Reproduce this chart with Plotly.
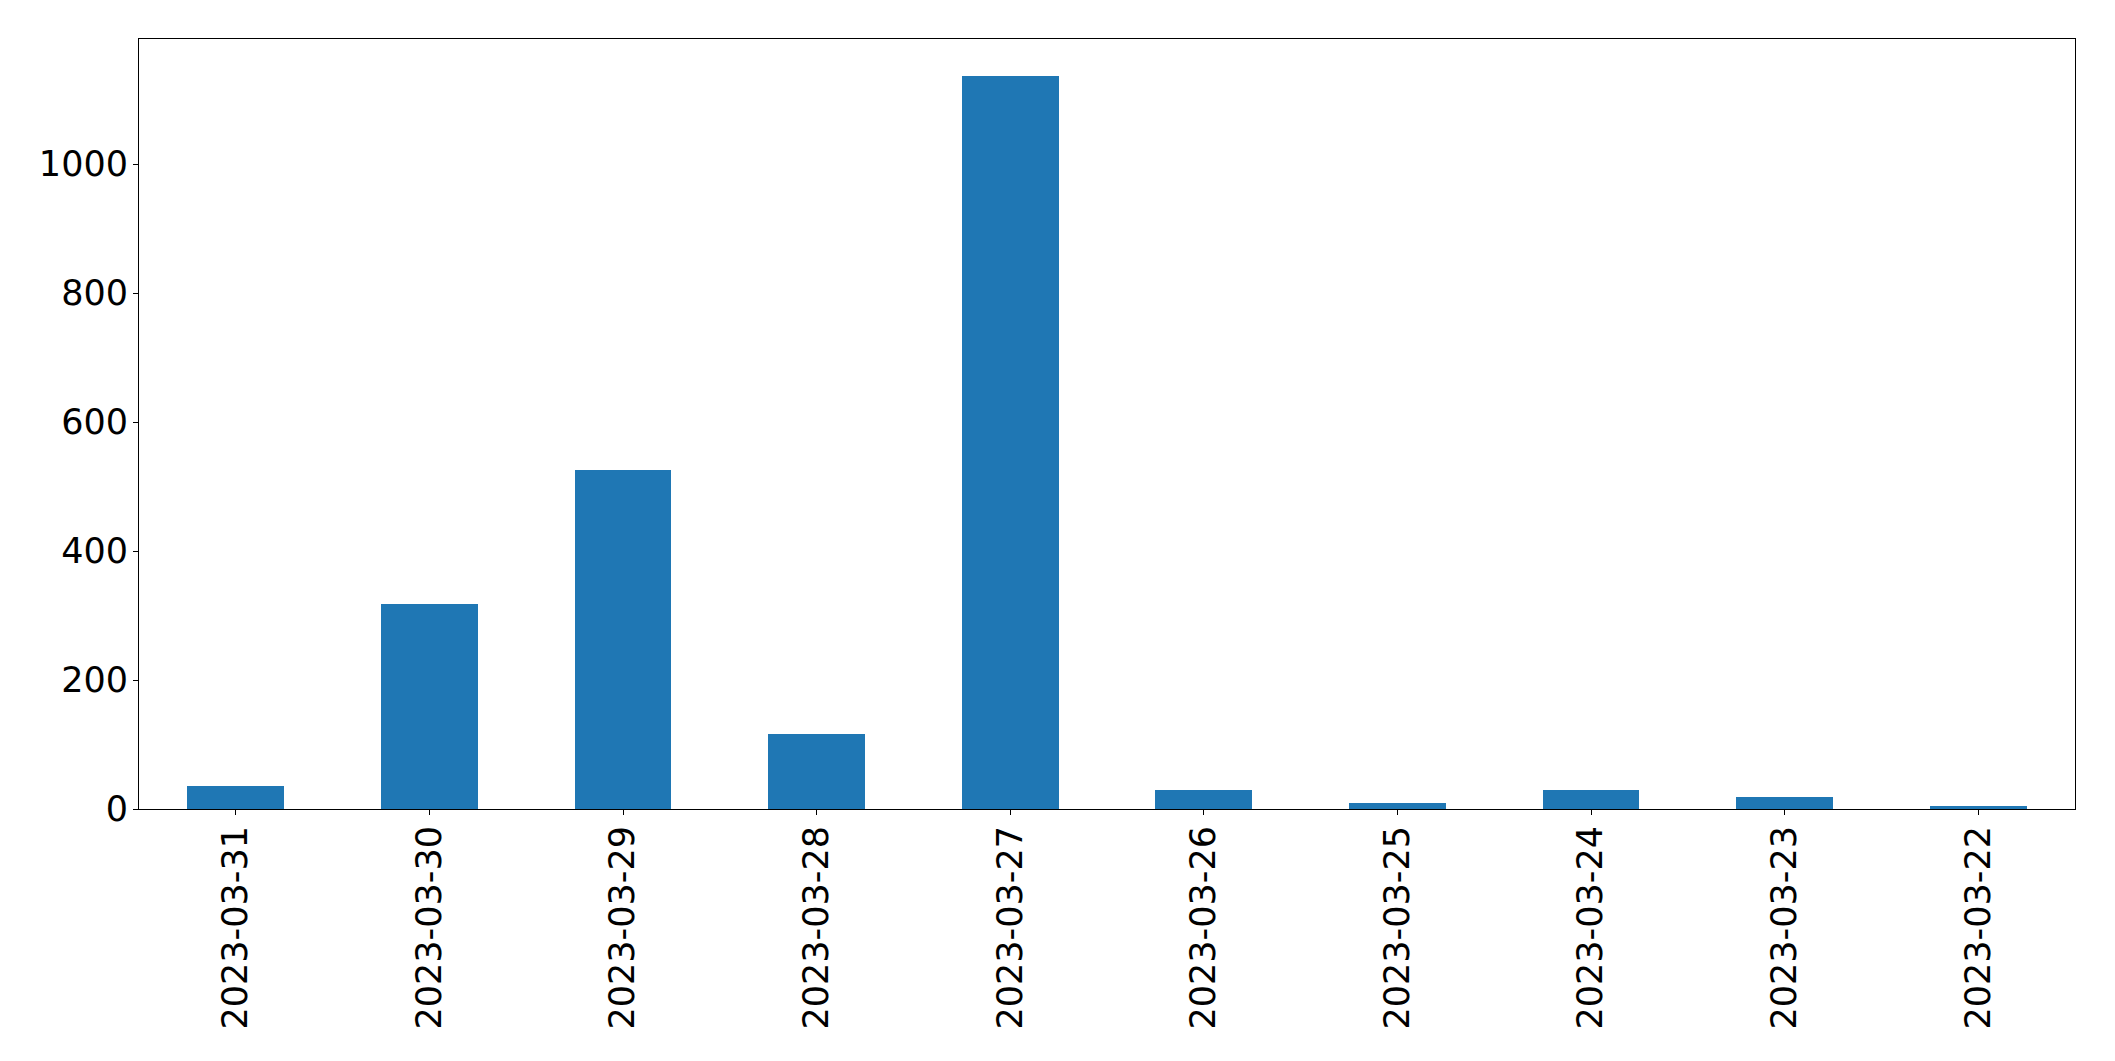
import plotly.graph_objects as go

dates = ["2023-03-31", "2023-03-30", "2023-03-29", "2023-03-28", "2023-03-27",
         "2023-03-26", "2023-03-25", "2023-03-24", "2023-03-23", "2023-03-22"]
counts = [35, 318, 526, 116, 1137, 30, 10, 30, 19, 5]
y_ticks = [0, 200, 400, 600, 800, 1000]

fig = go.Figure(
    go.Bar(
        x=dates,
        y=counts,
        width=0.5,
        marker=dict(color="#1f77b4", line=dict(width=0)),
    )
)

axis_common = dict(
    showline=True,
    linecolor="black",
    linewidth=1.1,
    mirror=True,
    ticks="outside",
    ticklen=5,
    tickwidth=1.1,
    tickcolor="black",
    showgrid=False,
    zeroline=False,
    automargin=False,
    tickfont=dict(family="DejaVu Sans", size=35, color="black"),
)

fig.update_xaxes(
    type="category",
    range=[-0.5, len(dates) - 0.5],
    tickangle=-90,
    ticklabelstandoff=-3,
    **axis_common,
)
fig.update_yaxes(
    range=[0, max(counts) * 1.05],
    tickvals=y_ticks,
    ticktext=[str(v) for v in y_ticks],
    ticklabelstandoff=-2,
    **axis_common,
)

# the page body has an 8px default margin, so the figure is offset by 8px
fig.update_layout(
    width=2107,
    height=1053,
    margin=dict(l=131, r=40, t=31, b=252, pad=0),
    paper_bgcolor="white",
    plot_bgcolor="white",
    showlegend=False,
    bargap=0,
    font=dict(family="DejaVu Sans", size=35, color="black"),
)

fig.write_html("out.html")
